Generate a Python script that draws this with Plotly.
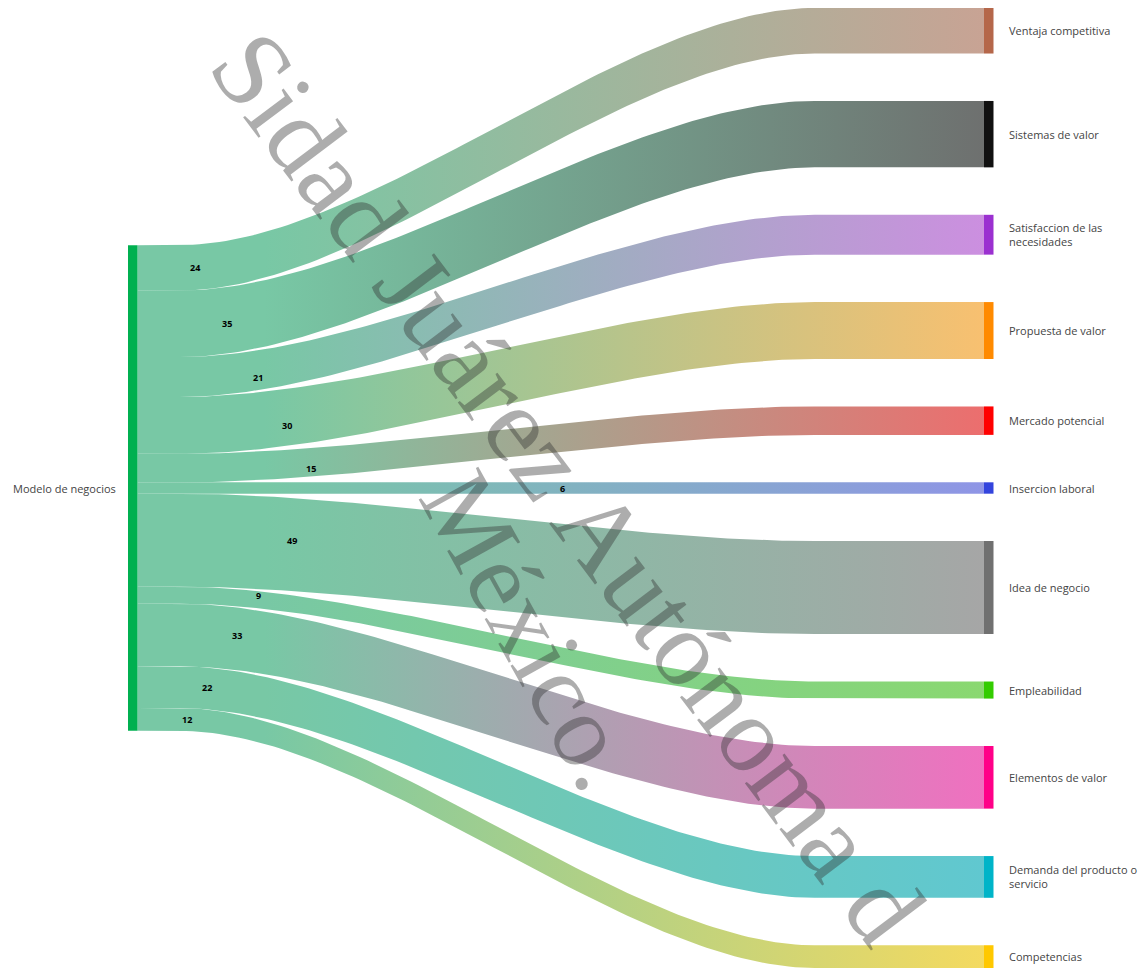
import textwrap
import numpy as np
import plotly.graph_objects as go

# ---------------- data ----------------
SOURCE = "Modelo de negocios"
TARGETS = [
    "Ventaja competitiva",
    "Sistemas de valor",
    "Satisfaccion de las necesidades",
    "Propuesta de valor",
    "Mercado potencial",
    "Insercion laboral",
    "Idea de negocio",
    "Empleabilidad",
    "Elementos de valor",
    "Demanda del producto o servicio",
    "Competencias",
]
VALUES = [24, 35, 21, 30, 15, 6, 49, 9, 33, 22, 12]

# ---------------- style ----------------
SOURCE_COLOR = "#00b050"
LINK_START_COLOR = "#78c8a5"
NODE_COLORS = ["#b5674a", "#111111", "#9b30d0", "#ff8a00", "#ff0000", "#3344dd",
               "#707070", "#33cc00", "#ff0088", "#00b4c8", "#ffc800"]
LINK_END_COLORS = ["#c8a394", "#6e706f", "#cc8fe0", "#f8c070", "#ec6e6e", "#8f95e6",
                   "#a6a6a6", "#8ad870", "#f070c0", "#60c8d0", "#f4da60"]
LABEL_X = [195, 227, 258, 287, 311, 562, 292, 258, 237, 207, 187]  # value label x (px)

W, H = 1146, 971
X_SRC, X_TGT, NODE_W = 128, 984, 9.5
PAD = 25.0  # node padding, in flow units
CURVE_START = 0.05  # fraction of link length before the curve starts
CURVE_END = 0.8     # fraction of link length where curve reaches target level
CURVE_CTRL = 0.3    # control point offset (fraction of curve length)

vals = np.array(VALUES, dtype=float)
total = vals.sum()
span = total + PAD * (len(vals) - 1)
src_top = (span - total) / 2.0
src_cum = src_top + np.concatenate([[0], np.cumsum(vals)[:-1]])
tgt_top = np.concatenate([[0], np.cumsum(vals)[:-1]]) + PAD * np.arange(len(vals))

lx0, lx1 = X_SRC + NODE_W, X_TGT


def edge(y0, y1, n=90):
    xs = lx0 + CURVE_START * (lx1 - lx0)
    xe = lx0 + CURVE_END * (lx1 - lx0)
    c = CURVE_CTRL * (xe - xs)
    t = np.linspace(0, 1, n)
    bx = (1 - t) ** 3 * xs + 3 * (1 - t) ** 2 * t * (xs + c) + 3 * (1 - t) * t ** 2 * (xe - c) + t ** 3 * xe
    by = ((1 - t) ** 3 + 3 * (1 - t) ** 2 * t) * y0 + (3 * (1 - t) * t ** 2 + t ** 3) * y1
    return np.concatenate([[lx0], bx, [lx1]]), np.concatenate([[y0], by, [y1]])


fig = go.Figure()

# links
for i, v in enumerate(vals):
    tx, ty = edge(src_cum[i], tgt_top[i])
    bx, by = edge(src_cum[i] + v, tgt_top[i] + v)
    fig.add_trace(go.Scatter(
        x=np.concatenate([tx, bx[::-1]]), y=np.concatenate([ty, by[::-1]]),
        mode="lines", fill="toself", line=dict(width=0, color="rgba(0,0,0,0)"),
        fillgradient=dict(type="horizontal",
                          colorscale=[[0, LINK_START_COLOR], [0.15, LINK_START_COLOR], [1, LINK_END_COLORS[i]]],
                          start=lx0, stop=lx1),
        hoverinfo="skip", showlegend=False))


# nodes
def rect(x0, x1, y0, y1, color):
    fig.add_trace(go.Scatter(x=[x0, x1, x1, x0, x0], y=[y0, y0, y1, y1, y0], mode="lines",
                             fill="toself", fillcolor=color, line=dict(width=0, color=color),
                             hoverinfo="skip", showlegend=False))


rect(X_SRC, X_SRC + NODE_W, src_top, src_top + total, SOURCE_COLOR)
for i, v in enumerate(vals):
    rect(X_TGT, X_TGT + NODE_W, tgt_top[i], tgt_top[i] + v, NODE_COLORS[i])

annotations = []
label_font = dict(family="Open Sans, Noto Sans, sans-serif", size=11, color="#444444")
annotations.append(dict(x=X_SRC - 10, y=src_top + total / 2, text=SOURCE, showarrow=False,
                        xanchor="right", yanchor="middle", font=label_font, xref="x", yref="y"))
for i, name in enumerate(TARGETS):
    annotations.append(dict(x=X_TGT + NODE_W + 13, y=tgt_top[i] + vals[i] / 2,
                            text="<br>".join(textwrap.wrap(name, 22)), showarrow=False,
                            xanchor="left", yanchor="middle", align="left", font=label_font,
                            xref="x", yref="y"))
    annotations.append(dict(x=LABEL_X[i], y=src_cum[i] + vals[i] / 2, text=str(VALUES[i]),
                            showarrow=False, xanchor="center", yanchor="middle",
                            font=dict(family="Open Sans, sans-serif", size=9, color="#000000", weight="bold"),
                            xref="x", yref="y"))

# y axis in flow units
PX_PER_UNIT = (968 - 8) / span
y_top = -8 / PX_PER_UNIT
y_bot = y_top + H / PX_PER_UNIT

# watermark (positions given in page pixels, converted to axis units)
wm_font = dict(family="Liberation Serif, Times New Roman, serif", size=108, color="rgba(50,50,50,0.40)")
for text, px, py, ang, size in [("Sidad Juárez Autónoma d", 568, 487, 53, 108),
                                ("México.", 532, 630, 61, 104)]:
    annotations.append(dict(x=px, y=y_top + py / PX_PER_UNIT, xref="x", yref="y", text=text,
                            showarrow=False, textangle=ang, font=dict(wm_font, size=size),
                            xanchor="center", yanchor="middle"))

fig.update_layout(
    width=W, height=H, margin=dict(l=0, r=0, t=0, b=0),
    paper_bgcolor="white", plot_bgcolor="white",
    xaxis=dict(range=[0, W], visible=False, fixedrange=True),
    yaxis=dict(range=[y_bot, y_top], visible=False, fixedrange=True),
    annotations=annotations,
)

fig.write_html("out.html", config={"displayModeBar": False},
               post_script="document.body.style.margin='0';")
